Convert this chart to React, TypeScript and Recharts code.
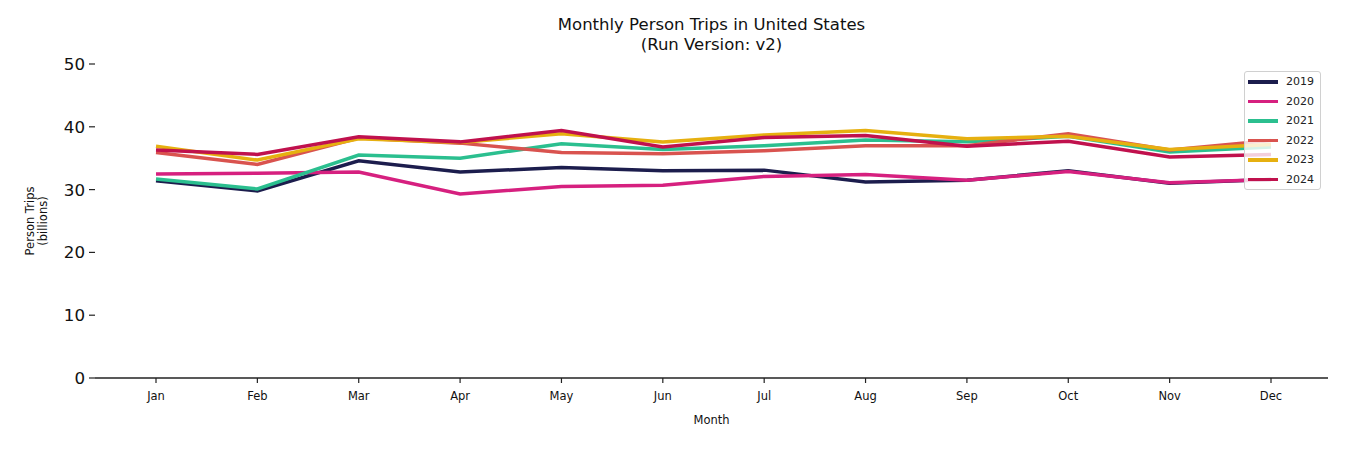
import React from 'react';
import { LineChart, Line, XAxis, YAxis } from 'recharts';

const months = ['Jan', 'Feb', 'Mar', 'Apr', 'May', 'Jun', 'Jul', 'Aug', 'Sep', 'Oct', 'Nov', 'Dec'];
const years = ['2019', '2020', '2021', '2022', '2023', '2024'];
const trips2019 = [31.4, 29.8, 34.6, 32.8, 33.5, 33.0, 33.1, 31.2, 31.5, 33.0, 31.0, 31.6];
const trips2020 = [32.5, 32.6, 32.8, 29.3, 30.5, 30.7, 32.1, 32.4, 31.5, 32.9, 31.1, 31.6];
const trips2021 = [31.7, 30.1, 35.5, 35.0, 37.3, 36.4, 37.0, 37.9, 37.6, 38.5, 36.0, 36.8];
const trips2022 = [35.9, 34.0, 38.2, 37.4, 35.9, 35.7, 36.2, 37.0, 37.0, 38.9, 36.3, 37.8];
const trips2023 = [36.9, 34.7, 38.1, 37.5, 38.9, 37.6, 38.7, 39.4, 38.1, 38.5, 36.4, 37.2];
const trips2024 = [36.3, 35.6, 38.4, 37.6, 39.4, 36.8, 38.3, 38.6, 36.9, 37.7, 35.2, 35.6];
const yTicks = [0, 10, 20, 30, 40, 50];

const seriesValues = [trips2019, trips2020, trips2021, trips2022, trips2023, trips2024];
const colors = ['#1c1d4d', '#d6207f', '#2bbf8f', '#d9534f', '#e6b010', '#c0114d'];

const data = months.map((m, i) => {
  const row: Record<string, string | number> = { month: m };
  years.forEach((y, k) => {
    row[y] = seriesValues[k][i];
  });
  return row;
});

const FONT = '"DejaVu Sans", sans-serif';

const LegendBox = () => (
  <div
    style={{
      position: 'absolute',
      left: 1244,
      top: 71,
      background: 'rgba(255,255,255,0.8)',
      border: '1px solid #d0d0d0',
      borderRadius: 3,
      padding: '0 5px 0 3px',
      fontFamily: FONT,
      fontSize: 11,
      color: '#222',
      boxSizing: 'border-box',
      width: 77,
    }}
  >
    {years.map((y, k) => (
      <div key={y} style={{ display: 'flex', alignItems: 'center', height: 19.5 }}>
        <div style={{ width: 30, height: 3.5, background: colors[k], marginRight: 8 }} />
        <span>{y}</span>
      </div>
    ))}
  </div>
);

export default function App() {
  return (
    <div style={{ position: 'absolute', left: 0, top: 0, width: 1350, height: 450, background: '#fff', fontFamily: FONT }}>
      <div
        style={{
          position: 'absolute',
          left: 95,
          width: 1233,
          top: 15,
          textAlign: 'center',
          fontSize: 16.5,
          lineHeight: '20px',
          color: '#111',
        }}
      >
        <div>Monthly Person Trips in United States</div>
        <div>(Run Version: v2)</div>
      </div>
      <div
        style={{
          position: 'absolute',
          left: 95,
          width: 1233,
          top: 413,
          textAlign: 'center',
          fontSize: 11.5,
          color: '#111',
        }}
      >
        Month
      </div>
      <div
        style={{
          position: 'absolute',
          left: 37,
          top: 221,
          transform: 'translate(-50%, -50%) rotate(-90deg)',
          textAlign: 'center',
          fontSize: 11.5,
          lineHeight: '13px',
          color: '#111',
          whiteSpace: 'nowrap',
        }}
      >
        <div>Person Trips</div>
        <div>(billions)</div>
      </div>
      <div style={{ position: 'absolute', left: 0, top: 0 }}>
        <LineChart
          width={1350}
          height={450}
          data={data}
          margin={{ top: 64, right: 22, bottom: 22, left: 35 }}
        >
          <XAxis
            dataKey="month"
            height={50}
            padding={{ left: 61, right: 57 }}
            stroke="#222"
            axisLine={{ stroke: '#222', strokeWidth: 1.4 }}
            tickLine={{ stroke: '#222', strokeWidth: 1.2 }}
            tickSize={5}
            tickMargin={9}
            tick={{ fontSize: 11.5, fill: '#111', fontFamily: FONT }}
            interval={0}
          />
          <YAxis
            width={60}
            domain={[0, 50]}
            ticks={yTicks}
            axisLine={false}
            tickLine={{ stroke: '#222', strokeWidth: 1.2 }}
            tickSize={6}
            tickMargin={4}
            tick={{ fontSize: 16.7, fill: '#111', fontFamily: FONT }}
            interval={0}
          />
          {years.map((y, k) => (
            <Line
              key={y}
              type="linear"
              dataKey={y}
              stroke={colors[k]}
              strokeWidth={3.5}
              dot={false}
              activeDot={false}
              isAnimationActive={false}
            />
          ))}
        </LineChart>
      </div>
      <LegendBox />
    </div>
  );
}
